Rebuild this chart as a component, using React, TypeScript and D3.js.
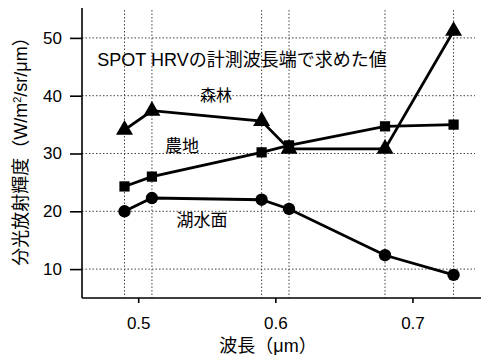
import { useEffect, useRef } from 'react';
import * as d3 from 'd3';

// band edges of SPOT HRV (um)
const wavelengths = [0.49, 0.51, 0.59, 0.61, 0.68, 0.73];
const forest = [34.1, 37.4, 35.6, 30.8, 30.8, 51.2];
const farmland = [24.3, 26.0, 30.2, 31.4, 34.7, 35.0];
const lake = [20.0, 22.3, 22.0, 20.4, 12.4, 9.0];
const yTicks = [10, 20, 30, 40, 50];
const xTicks = [0.5, 0.6, 0.7];

const FONT = "'Liberation Sans', 'Noto Sans CJK JP', sans-serif";

const App = () => {
    const svgRef = useRef<SVGSVGElement>(null);

    useEffect(() => {
        const svg = d3.select(svgRef.current);
        svg.selectAll('*').remove();

        const left = 82, right = 481, top = 8, bottom = 298;
        const x = d3.scaleLinear().domain([0.459, 0.75]).range([left, right]);
        const y = d3.scaleLinear().domain([5, 55]).range([bottom, top + 1]);

        // grid
        svg.append('g').selectAll('line').data(yTicks).enter().append('line')
            .attr('x1', left).attr('x2', 475).attr('y1', (d) => y(d)).attr('y2', (d) => y(d))
            .attr('stroke', '#444').attr('stroke-width', 1).attr('stroke-dasharray', '1.5,2');
        svg.append('g').selectAll('line').data(wavelengths).enter().append('line')
            .attr('x1', (d) => x(d)).attr('x2', (d) => x(d)).attr('y1', 10).attr('y2', bottom)
            .attr('stroke', '#444').attr('stroke-width', 1).attr('stroke-dasharray', '1.5,2');

        // axes
        const yAxis = svg.append('g').attr('transform', `translate(${left},0)`)
            .call(d3.axisLeft(y).tickValues(yTicks).tickSize(12).tickSizeOuter(0).tickPadding(8));
        const xAxis = svg.append('g').attr('transform', `translate(0,${bottom})`)
            .call(d3.axisBottom(x).tickValues(xTicks).tickSize(5).tickSizeOuter(0).tickPadding(14).tickFormat(d3.format('.1f')));
        [yAxis, xAxis].forEach((a) => {
            a.selectAll('path, line').attr('stroke', '#000').attr('stroke-width', 1.6);
            a.selectAll('text').attr('fill', '#000').style('font-size', '17px').style('font-family', FONT);
        });
        yAxis.select('path').attr('d', `M0,${top}V${bottom}`);
        xAxis.select('path').attr('d', `M${left},0H${right}`);

        const line = d3.line<number>().x((d, i) => x(wavelengths[i])).y((d) => y(d));
        const series = [
            { values: forest, shape: d3.symbolTriangle, size: 125 },
            { values: farmland, shape: d3.symbolSquare, size: 105 },
            { values: lake, shape: d3.symbolCircle, size: 120 },
        ];
        series.forEach((s) => {
            svg.append('path').datum(s.values).attr('d', line)
                .attr('fill', 'none').attr('stroke', '#000').attr('stroke-width', 2.8);
            svg.append('g').selectAll('path').data(s.values).enter().append('path')
                .attr('transform', (d, i) => `translate(${x(wavelengths[i])},${y(d)})`)
                .attr('d', d3.symbol().type(s.shape).size(s.size)())
                .attr('fill', '#000');
        });

        const addText = (tx: number, ty: number, t: string, size = 17) =>
            svg.append('text').attr('x', tx).attr('y', ty).attr('text-anchor', 'middle')
                .style('font-size', `${size}px`).style('font-family', FONT).attr('fill', '#000').text(t);

        addText(242, 66, 'SPOT HRVの計測波長端で求めた値', 18);
        addText(216, 101, '森林', 16);
        addText(182, 152, '農地', 17);
        addText(202, 226, '湖水面', 17);
        addText(268, 352, '波長（μm）', 18);

        const yl = svg.append('text').attr('transform', 'translate(27,147) rotate(-90)').attr('text-anchor', 'middle')
            .style('font-size', '18px').style('font-family', FONT).attr('fill', '#000');
        yl.append('tspan').text('分光放射輝度（W/m');
        yl.append('tspan').attr('dy', -6).style('font-size', '11px').text('2');
        yl.append('tspan').attr('dy', 6).text('/sr/μm）');
    }, []);

    return (
        <svg ref={svgRef} width={484} height={355}
            style={{ position: 'absolute', left: 0, top: 0, background: '#fff' }} />
    );
};

export default App;
